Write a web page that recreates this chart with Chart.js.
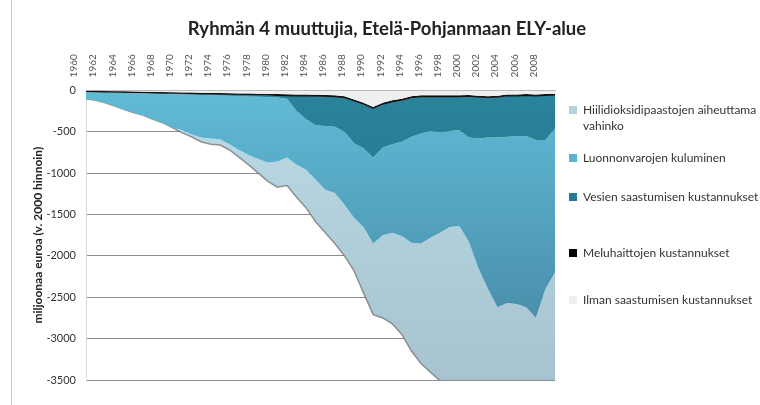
<!DOCTYPE html>
<html lang="fi">
<head>
  <meta charset="UTF-8">
  <title>Ryhmän 4 muuttujia</title>
  <script src="https://cdn.jsdelivr.net/npm/chart.js"></script>
  <style>
    html, body { margin: 0; padding: 0; background: #fff; }
    #wrap { position: relative; width: 760px; height: 405px; font-family: Lato, "Open Sans", sans-serif; }
    #frame { position: absolute; left: 11px; top: 0; width: 1px; height: 405px; background: #c8c8c8; }
    #legend { position: absolute; left: 569px; top: 0; width: 190px; color: #333; font-size: 12px; line-height: 16px; }
    #legend .item { position: absolute; left: 0; width: 185px; padding-left: 14px; }
    #legend .box { position: absolute; left: 0; top: 4px; width: 8px; height: 8px; }
  </style>
</head>
<body>
  <div id="wrap">
    <canvas id="chart" width="760" height="405"></canvas>
    <div id="frame"></div>
    <div id="legend"></div>
  </div>

  <script>
    // Data
    const years = [1960, 1961, 1962, 1963, 1964, 1965, 1966, 1967, 1968, 1969,
                   1970, 1971, 1972, 1973, 1974, 1975, 1976, 1977, 1978, 1979,
                   1980, 1981, 1982, 1983, 1984, 1985, 1986, 1987, 1988, 1989,
                   1990, 1991, 1992, 1993, 1994, 1995, 1996, 1997, 1998, 1999,
                   2000, 2001, 2002, 2003, 2004, 2005, 2006, 2007, 2008, 2009];

    const ilman = [-3, -5, -7, -9, -11, -13, -15, -17, -19, -21,
                   -24, -26, -28, -30, -32, -34, -36, -38, -40, -42,
                   -45, -48, -50, -50, -52, -55, -60, -70, -110, -150,
                   -200, -150, -120, -100, -70, -60, -60, -60, -60, -60,
                   -55, -65, -70, -65, -50, -50, -45, -50, -45, -40];

    const melu = [-10, -10, -10, -10, -10, -10, -10, -10, -10, -10,
                  -10, -10, -10, -10, -10, -10, -10, -10, -10, -10,
                  -15, -15, -15, -15, -15, -15, -15, -15, -15, -15,
                  -15, -15, -15, -15, -15, -15, -15, -15, -15, -15,
                  -15, -15, -15, -15, -15, -15, -15, -15, -15, -15];

    const vesien = [-7, -7, -8, -9, -9, -10, -11, -13, -14, -15,
                    -16, -17, -18, -20, -21, -22, -24, -25, -26, -28,
                    -25, -37, -185, -285, -353, -360, -365, -415, -515, -535,
                    -595, -525, -515, -505, -475, -445, -415, -435, -415, -405,
                    -500, -500, -485, -490, -495, -490, -490, -535, -540, -405];

    const luonnon = [-80, -98, -125, -162, -200, -237, -264, -310, -347, -404,
                     -430, -477, -514, -520, -527, -584, -650, -707, -754, -790,
                     -775, -710, -650, -610, -660, -770, -800, -880, -900, -950,
                     -1040, -1060, -1070, -1140, -1280, -1330, -1290, -1210, -1160, -1160,
                     -1260, -1570, -1830, -2050, -2010, -2025, -2070, -2150, -1800, -1740];

    const hiilidioksidi = [0, 0, 0, 0, 0, 0, 0, 0, 0, 0,
                           -30, -30, -50, -70, -70, -70, -90, -120, -170, -230,
                           -310, -340, -390, -460, -510, -520, -610, -620, -640, -800,
                           -860, -1000, -1100, -1190, -1310, -1450, -1630, -1790, -1950, -2060,
                           -1970, -1750, -1600, -1430, -1530, -1570, -1580, -1500, -1900, -2050];

    const yTicks = [0, -500, -1000, -1500, -2000, -2500, -3000, -3500];

    // vertical gradient over the plot area
    function grad(top, bottom, fallback) {
      return (ctx) => {
        const area = ctx.chart.chartArea;
        if (!area) return fallback;
        const g = ctx.chart.ctx.createLinearGradient(0, area.top, 0, area.bottom);
        g.addColorStop(0, top);
        g.addColorStop(1, bottom);
        return g;
      };
    }

    const datasets = [
      { label: 'Ilman saastumisen kustannukset', data: ilman, fill: 'origin',
        backgroundColor: '#efefef', legendColor: '#efefef', borderWidth: 0 },
      { label: 'Meluhaittojen kustannukset', data: melu, fill: '-1',
        backgroundColor: '#111', legendColor: '#000', borderColor: '#111', borderWidth: 1.2 },
      { label: 'Vesien saastumisen kustannukset', data: vesien, fill: '-1',
        backgroundColor: grad('#2a849c', '#1b657a', '#237a92'), legendColor: '#247d94', borderWidth: 0 },
      { label: 'Luonnonvarojen kuluminen', data: luonnon, fill: '-1',
        backgroundColor: grad('#60bbd7', '#4483a0', '#56aecb'), legendColor: '#5ab4d0', borderWidth: 0 },
      { label: 'Hiilidioksidipaastojen aiheuttama vahinko', data: hiilidioksidi, fill: '-1',
        backgroundColor: grad('#bcdbe7', '#a6c3cf', '#b4d3df'), legendColor: '#b4d3df',
        borderColor: 'rgba(110,110,110,0.7)', borderWidth: 1.5 }
    ];
    datasets.forEach(d => { d.pointRadius = 0; d.tension = 0; if (!d.borderWidth) d.borderColor = 'transparent'; });

    const chart = new Chart(document.getElementById('chart'), {
      type: 'line',
      data: { labels: years, datasets: datasets },
      options: {
        responsive: false,
        animation: false,
        layout: { padding: { left: 31, right: 17, top: 18, bottom: 25 } },
        plugins: {
          legend: { display: false },
          tooltip: { enabled: false },
          title: {
            display: true,
            text: 'Ryhmän 4 muuttujia, Etelä-Pohjanmaan ELY-alue',
            color: '#222',
            font: { family: 'Lato', size: 18.5, weight: 'bold' },
            padding: { top: 0, bottom: 9 }
          }
        },
        scales: {
          x: {
            position: 'top',
            grid: { display: false },
            border: { color: '#b5b5b5', width: 1 },
            ticks: {
              autoSkip: false,
              minRotation: 90,
              maxRotation: 90,
              padding: 5,
              color: '#555',
              font: { family: 'Lato', size: 10 },
              callback: (v, i) => (i % 2 === 0 ? String(years[i]) : '')
            }
          },
          y: {
            stacked: true,
            min: -3500,
            max: 0,
            afterBuildTicks: (axis) => { axis.ticks = yTicks.map(v => ({ value: v })); },
            afterFit: (s) => { s.width = 55; },
            grid: {
              drawTicks: false,
              color: (c) => (c.tick && c.tick.value === 0 ? 'transparent' : '#8c8c8c')
            },
            border: { color: '#d9d9d9' },
            ticks: {
              padding: 10,
              color: '#333',
              font: { family: 'Lato', size: 11 },
              callback: (v) => String(v)
            },
            title: {
              display: true,
              text: 'miljoonaa euroa (v. 2000 hinnoin)',
              color: '#222',
              font: { family: 'Lato', size: 12, weight: 'bold' },
              padding: { top: 0, bottom: 2 }
            }
          },
          // empty space on the right that holds the legend
          legendSpace: {
            type: 'linear',
            position: 'right',
            min: 0,
            max: 1,
            grid: { display: false },
            border: { display: false },
            ticks: { display: false },
            afterFit: (s) => { s.width = 188; }
          }
        }
      }
    });

    // legend, top item = bottom layer of the stack
    const legendTops = [102, 150, 189, 245, 292];
    const legendEl = document.getElementById('legend');
    chart.data.datasets.slice().reverse().forEach((d, i) => {
      const item = document.createElement('div');
      item.className = 'item';
      item.style.top = legendTops[i] + 'px';
      const box = document.createElement('span');
      box.className = 'box';
      box.style.background = d.legendColor;
      item.appendChild(box);
      item.appendChild(document.createTextNode(d.label));
      legendEl.appendChild(item);
    });
  </script>
</body>
</html>
